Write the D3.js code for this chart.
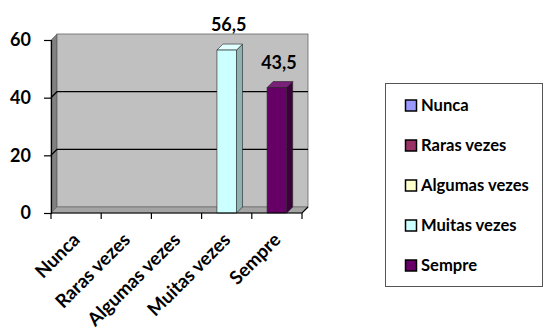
<!DOCTYPE html>
<html><head><meta charset="utf-8">
<script src="https://cdn.jsdelivr.net/npm/d3@7"></script>
<style>body{margin:0;background:#fff}svg{display:block}text{font-family:Lato,"Open Sans",sans-serif;font-weight:bold;fill:#000}</style>
</head><body>
<svg id="c" width="544" height="329"></svg>
<script>
const categories = ["Nunca", "Raras vezes", "Algumas vezes", "Muitas vezes", "Sempre"];
const values = [0, 0, 0, 56.5, 43.5];
const colors = ["#9999ff", "#993366", "#ffffcc", "#ccffff", "#660066"];
const sideColors = ["#6b6bb3", "#6b2447", "#b3b38f", "#8fb3b3", "#3d003d"];
const topColors = ["#b3b3ff", "#b35c85", "#ffffe0", "#e0ffff", "#7a1f7a"];
const yTicks = [0, 20, 40, 60];

const svg = d3.select("#c");
const dx = 6, dy = -6;
const x = d3.scaleBand().domain(categories).range([51, 302]);
const y = d3.scaleLinear().domain([0, 60]).range([213, 40]);
const fmt = d3.formatLocale({decimal: ",", thousands: ".", grouping: [3], currency: ["", ""]}).format(".1f");

// fit a font size so a sample string reaches a target width (Calibri look-alike sizing)
function fitSize(sample, target) {
  const t = svg.append("text").attr("font-size", 20).text(sample);
  const w = t.node().getComputedTextLength();
  t.remove();
  return 20 * target / w;
}
const legendSize = fitSize("Algumas vezes", 108);
const xLabelSize = fitSize("Muitas vezes", 108);

const xl = x.range()[0], xr = x.range()[1];
// walls
svg.append("polygon").attr("points", [[xl, y(0)], [xl + dx, y(0) + dy], [xl + dx, y(60) + dy], [xl, y(60)]].join(" "))
  .attr("fill", "#808080").attr("stroke", "#555").attr("stroke-width", 0.6);
svg.append("rect").attr("x", xl + dx).attr("y", y(60) + dy).attr("width", xr - xl).attr("height", y(0) - y(60))
  .attr("fill", "#c0c0c0").attr("stroke", "#666").attr("stroke-width", 0.8);
svg.append("polygon").attr("points", [[xl, y(0)], [xl + dx, y(0) + dy], [xr + dx, y(0) + dy], [xr, y(0)]].join(" "))
  .attr("fill", "#a4a4a4").attr("stroke", "#666").attr("stroke-width", 0.6);
// gridlines
yTicks.filter(t => t > 0 && t < 60).forEach(t => {
  svg.append("path").attr("d", `M${xl},${y(t)}L${xl + dx},${y(t) + dy}H${xr + dx}`)
    .attr("fill", "none").attr("stroke", "#000").attr("stroke-width", 1.3);
});

// bars
const bw = x.bandwidth() * 0.39;
categories.forEach((c, i) => {
  const v = values[i];
  if (v <= 0) return;
  const x0 = x(c) + (x.bandwidth() - bw) / 2, x1 = x0 + bw, yt = y(v), yb = y(0);
  const g = svg.append("g").attr("stroke", "#222").attr("stroke-width", 0.6).attr("stroke-linejoin", "round");
  g.append("polygon").attr("points", [[x1, yb], [x1 + dx, yb + dy], [x1 + dx, yt + dy], [x1, yt]].join(" ")).attr("fill", sideColors[i]);
  g.append("polygon").attr("points", [[x0, yt], [x0 + dx, yt + dy], [x1 + dx, yt + dy], [x1, yt]].join(" ")).attr("fill", topColors[i]);
  g.append("rect").attr("x", x0).attr("y", yt).attr("width", bw).attr("height", yb - yt).attr("fill", colors[i]);
  svg.append("text").attr("x", (x0 + x1) / 2 + dx / 2 - 1).attr("y", yt + dy - 13)
    .attr("text-anchor", "middle").attr("font-size", 18).text(fmt(v));
});

// y axis
svg.append("g").attr("transform", `translate(${xl},0)`)
  .call(d3.axisLeft(y).tickValues(yTicks).tickSize(7).tickPadding(13).tickFormat(d3.format("d")))
  .call(g => g.select(".domain").attr("stroke", "#000").attr("stroke-width", 1.2))
  .call(g => g.selectAll(".tick line").attr("stroke", "#000").attr("stroke-width", 1.2))
  .call(g => g.selectAll("text").attr("font-size", 18).attr("font-family", "Lato").attr("font-weight", "bold").attr("fill", "#000"));

// x axis
const xa = svg.append("g").attr("transform", `translate(0,${y(0)})`);
xa.append("path").attr("d", `M${xl},0H${xr}L${xr + dx},${dy}`).attr("fill", "none").attr("stroke", "#000").attr("stroke-width", 1.2);
const bounds = categories.map(c => x(c)).concat([xr]);
xa.selectAll("line.tk").data(bounds).join("line").attr("x1", d => d).attr("x2", d => d).attr("y1", 0).attr("y2", 6)
  .attr("stroke", "#000").attr("stroke-width", 1.2);
xa.selectAll("text").data(categories).join("text")
  .attr("transform", d => `translate(${x(d) + x.bandwidth() / 2 + 5},${28}) rotate(-45)`)
  .attr("text-anchor", "end").attr("font-size", xLabelSize).text(d => d);

// legend
const lg = svg.append("g");
lg.append("rect").attr("x", 385.5).attr("y", 83.5).attr("width", 157).attr("height", 203)
  .attr("fill", "#fff").attr("stroke", "#555").attr("stroke-width", 1);
const rowY = d3.scalePoint().domain(categories).range([105, 265]);
categories.forEach((c, i) => {
  lg.append("rect").attr("x", 405.5).attr("y", rowY(c) - 5).attr("width", 11).attr("height", 11)
    .attr("fill", colors[i]).attr("stroke", "#000").attr("stroke-width", 1.5);
  lg.append("text").attr("x", 421).attr("y", rowY(c)).attr("dy", "0.36em").attr("font-size", legendSize).text(c);
});
</script>
</body></html>
